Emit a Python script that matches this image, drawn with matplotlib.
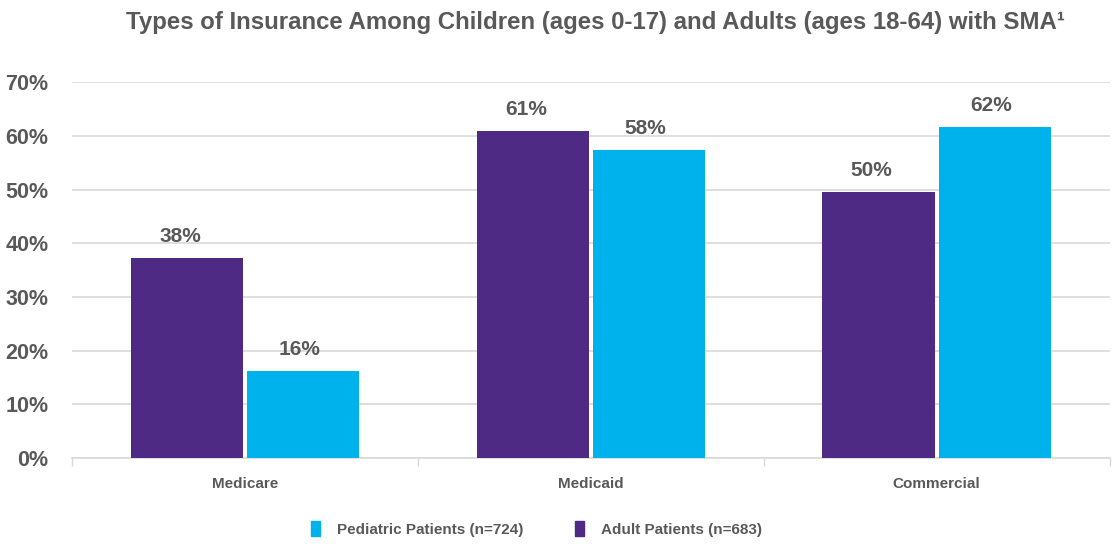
import matplotlib
matplotlib.use("Agg")
import matplotlib.pyplot as plt
import numpy as np
from matplotlib.patches import Patch

categories = ["Medicare", "Medicaid", "Commercial"]
adult_values = [37.3, 60.9, 49.5]
pediatric_values = [16.2, 57.4, 61.6]
adult_labels = ["38%", "61%", "50%"]
pediatric_labels = ["16%", "58%", "62%"]
yticks = [0, 10, 20, 30, 40, 50, 60, 70]
ytick_labels = ["0%", "10%", "20%", "30%", "40%", "50%", "60%", "70%"]
title = "Types of Insurance Among Children (ages 0-17) and Adults (ages 18-64) with SMA\u00b9"
legend_labels = ["Pediatric Patients (n=724)", "Adult Patients (n=683)"]

PURPLE = "#4E2A84"
CYAN = "#00B2EC"
GREY = "#595959"
plt.rcParams['font.family'] = ['Liberation Sans Narrow', 'Liberation Sans', 'DejaVu Sans']
plt.rcParams['font.weight'] = 'bold'

fig = plt.figure(figsize=(11.13, 5.44), dpi=100)
ax = fig.add_axes([0.0647, 0.158, 0.9323, 0.691])

x = np.arange(len(categories))
w = 0.325
off = 0.168
b1 = ax.bar(x - off, adult_values, w, color=PURPLE, zorder=3)
b2 = ax.bar(x + off, pediatric_values, w, color=CYAN, zorder=3)
for rect, lab in zip(b1, adult_labels):
    ax.text(rect.get_x() + rect.get_width() / 2 - 0.02, rect.get_height() + 2.2, lab,
            ha='center', va='bottom', fontsize=15, color=GREY, fontweight='bold')
for rect, lab in zip(b2, pediatric_labels):
    ax.text(rect.get_x() + rect.get_width() / 2 - 0.01, rect.get_height() + 2.2, lab,
            ha='center', va='bottom', fontsize=15, color=GREY, fontweight='bold')

ax.set_ylim(0, 70)
ax.set_xlim(-0.5, 2.5)
ax.set_yticks(yticks)
ax.set_yticklabels(ytick_labels, fontsize=15.5, color=GREY, fontweight='bold')
ax.set_xticks(x)
ax.set_xticklabels(categories, fontsize=11, color=GREY, fontweight='bold')
ax.tick_params(axis='x', which='major', length=0, pad=14)
ax.set_xticks([-0.5, 0.5, 1.5, 2.5], minor=True)
ax.tick_params(axis='x', which='minor', length=6, color='#D9D9D9', width=1)
ax.tick_params(axis='y', length=0, pad=17)
ax.yaxis.grid(True, color='#D9D9D9', linewidth=1.2, zorder=0)
ax.set_axisbelow(True)
for s in ['top', 'right', 'left']:
    ax.spines[s].set_visible(False)
ax.spines['bottom'].set_color('#D9D9D9')
ax.spines['bottom'].set_linewidth(1.2)

fig.text(0.535, 0.958, title, ha='center', va='center', fontsize=17.3, color=GREY, fontweight='bold')

handles = [Patch(color=CYAN), Patch(color=PURPLE)]
fig.legend(handles, legend_labels, loc='center', bbox_to_anchor=(0.482, 0.028), ncol=2,
           frameon=False, fontsize=11, handlelength=0.6, handleheight=1.2,
           columnspacing=3.4, handletextpad=1.1, labelcolor=GREY)

fig.savefig("out.png", dpi=100)
